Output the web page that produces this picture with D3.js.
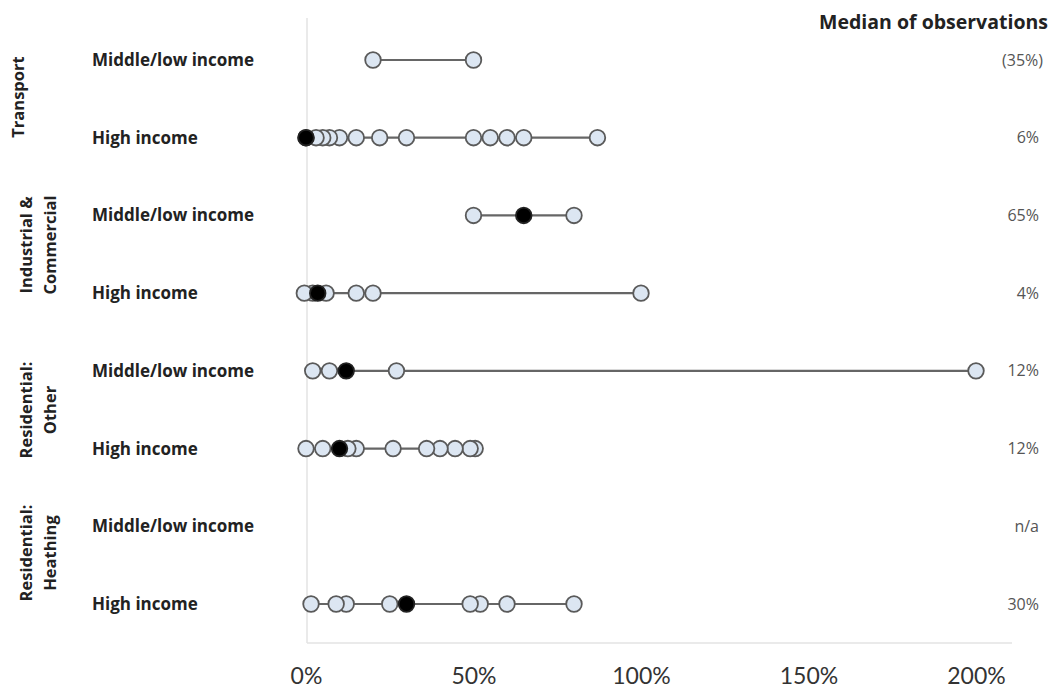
<!DOCTYPE html>
<html>
<head>
<meta charset="utf-8">
<script src="https://cdn.jsdelivr.net/npm/d3@7"></script>
<style>
  html, body { margin: 0; padding: 0; background: #fff; }
  svg { display: block; font-family: "Open Sans", Lato, "Liberation Sans", sans-serif; }
</style>
</head>
<body>
<svg id="chart" width="1052" height="695"></svg>
<script>
// ---- data ----
const sectors = ["Transport", "Industrial & Commercial", "Residential: Other", "Residential: Heathing"];
const sectorLines = [["Transport"], ["Industrial &", "Commercial"], ["Residential:", "Other"], ["Residential:", "Heathing"]];
const incomeGroups = ["Middle/low income", "High income"];
const rowSector = [0, 0, 1, 1, 2, 2, 3, 3];
const rowIncome = [0, 1, 0, 1, 0, 1, 0, 1];
const observations = [
  [0.20, 0.50],
  [0.00, 0.03, 0.05, 0.07, 0.10, 0.15, 0.22, 0.30, 0.50, 0.55, 0.60, 0.65, 0.87],
  [0.50, 0.80],
  [-0.005, 0.02, 0.06, 0.15, 0.20, 1.00],
  [0.02, 0.07, 0.27, 2.00],
  [0.00, 0.05, 0.125, 0.15, 0.26, 0.36, 0.40, 0.445, 0.49, 0.505],
  [],
  [0.015, 0.09, 0.12, 0.25, 0.49, 0.52, 0.60, 0.80]
];
const highlighted = [null, 0.00, 0.65, 0.035, 0.12, 0.10, null, 0.30];
const medianLabels = ["(35%)", "6%", "65%", "4%", "12%", "12%", "n/a", "30%"];
const xTicks = [0, 0.5, 1, 1.5, 2];
const medianTitle = "Median of observations";

// ---- layout ----
const svg = d3.select("#chart");
const rows = d3.range(observations.length);
const x = d3.scaleLinear().domain([0, 2]).range([306, 976]);
const y = d3.scalePoint().domain(rows).range([60, 604]);
const sectorCenter = [97, 245, 410, 553];

// axes lines
svg.append("line").attr("x1", 307).attr("x2", 307).attr("y1", 18).attr("y2", 643)
  .attr("stroke", "#e3e3e3").attr("stroke-width", 1.5);
svg.append("line").attr("x1", 307).attr("x2", 1012).attr("y1", 643).attr("y2", 643)
  .attr("stroke", "#e3e3e3").attr("stroke-width", 1.5);

// x axis labels
const xAxis = d3.axisBottom(x).tickValues(xTicks).tickFormat(d3.format(".0%")).tickSize(0).tickPadding(0);
const gx = svg.append("g").attr("transform", "translate(0,668)").call(xAxis);
gx.select(".domain").remove();
gx.selectAll("text").attr("font-size", 23).attr("fill", "#333")
  .attr("font-family", "Lato, 'Open Sans', sans-serif");

// sector labels (rotated)
sectorLines.forEach((lines, i) => {
  const n = lines.length;
  lines.forEach((t, j) => {
    const cx = n === 1 ? 18 : (j === 0 ? 26 : 50);
    svg.append("text")
      .attr("transform", `translate(${cx},${sectorCenter[i]}) rotate(-90)`)
      .attr("text-anchor", "middle").attr("dy", "0.35em")
      .attr("font-size", 16.5).attr("font-weight", "bold").attr("fill", "#222")
      .text(t);
  });
});

// row labels
svg.selectAll("text.row").data(rows).join("text").attr("class", "row")
  .attr("x", 92).attr("y", d => y(d)).attr("dy", "0.35em")
  .attr("font-size", 17).attr("font-weight", "bold").attr("fill", "#222")
  .text(d => incomeGroups[rowIncome[d]]);

// median header and labels
svg.append("text").attr("x", 1048).attr("y", 22).attr("dy", "0.35em")
  .attr("text-anchor", "end").attr("font-size", 19.5).attr("font-weight", "bold").attr("fill", "#222")
  .text(medianTitle);
svg.selectAll("text.med").data(rows).join("text").attr("class", "med")
  .attr("x", d => medianLabels[d].startsWith("(") ? 1043 : 1039)
  .attr("y", d => y(d)).attr("dy", "0.35em")
  .attr("text-anchor", "end").attr("font-size", 16).attr("fill", "#555")
  .text(d => medianLabels[d]);

// range lines
rows.forEach(r => {
  const vals = observations[r].concat(highlighted[r] == null ? [] : [highlighted[r]]);
  if (vals.length < 2) return;
  const ext = d3.extent(vals);
  svg.append("line").attr("x1", x(ext[0])).attr("x2", x(ext[1]))
    .attr("y1", y(r)).attr("y2", y(r))
    .attr("stroke", "#666").attr("stroke-width", 2.2);
});

// observation circles (drawn right to left)
rows.forEach(r => {
  const vals = observations[r].slice().sort((a, b) => b - a);
  svg.append("g").selectAll("circle").data(vals).join("circle")
    .attr("cx", d => x(d)).attr("cy", y(r)).attr("r", 7.8)
    .attr("fill", "#dce6f2").attr("stroke", "#5a5a5a").attr("stroke-width", 1.8);
  if (highlighted[r] != null) {
    svg.append("circle").attr("cx", x(highlighted[r])).attr("cy", y(r)).attr("r", 7.8)
      .attr("fill", "#000").attr("stroke", "#222").attr("stroke-width", 1.8);
  }
});
</script>
</body>
</html>
